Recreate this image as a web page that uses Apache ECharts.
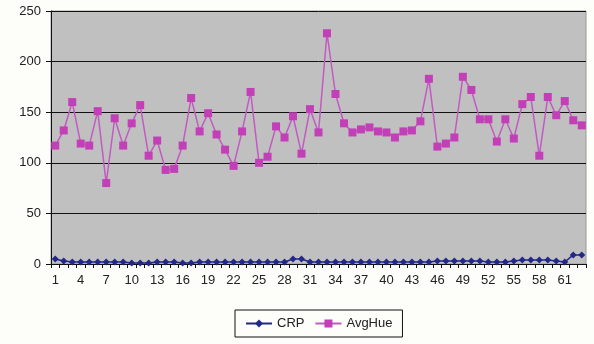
<!DOCTYPE html>
<html>
<head>
<meta charset="utf-8">
<script src="https://cdn.jsdelivr.net/npm/echarts@6/dist/echarts.min.js"></script>
<style>
  html, body { margin: 0; padding: 0; background: #fdfdfa; }
  #chart { width: 594px; height: 344px; }
</style>
</head>
<body>
<div id="chart"></div>
<script>
// Sample index 1..63
const categories = Array.from({ length: 63 }, (_, i) => String(i + 1));

const crp = [
  5, 3, 2, 2, 2, 2, 2, 2, 2, 1, 1, 1, 2, 2, 2, 1, 1, 2, 2, 2,
  2, 2, 2, 2, 2, 2, 2, 2, 5, 5, 2, 2, 2, 2, 2, 2, 2, 2, 2, 2,
  2, 2, 2, 2, 2, 3, 3, 3, 3, 3, 3, 2, 2, 2, 3, 4, 4, 4, 4, 3,
  2, 9, 9
];

const avgHue = [
  117, 132, 160, 119, 117, 151, 80, 144, 117, 139, 157, 107, 122, 93, 94, 117, 164, 131, 149, 128,
  113, 97, 131, 170, 100, 106, 136, 125, 146, 109, 153, 130, 228, 168, 139, 130, 133, 135, 131, 130,
  125, 131, 132, 141, 183, 116, 119, 125, 185, 172, 143, 143, 121, 143, 124, 158, 165, 107, 165, 147,
  161, 142, 137
];

const yTicks = { min: 0, max: 250, interval: 50 };

const chart = echarts.init(document.getElementById('chart'), null, { renderer: 'canvas' });
const font = 'Liberation Sans, Arial, sans-serif';

chart.setOption({
  animation: false,
  backgroundColor: '#fdfdfa',
  textStyle: { fontFamily: font },
  grid: {
    left: 51, right: 8, top: 11, bottom: 80,
    show: true, backgroundColor: '#c0c0c0', borderColor: '#9a9a9a', borderWidth: 1
  },
  legend: {
    top: 310,
    left: 235,
    data: ['CRP', 'AvgHue'],
    borderColor: '#111', borderWidth: 1, borderRadius: 0,
    padding: [7, 10, 7, 10],
    itemGap: 10, itemWidth: 26, itemHeight: 10,
    textStyle: { fontFamily: font, fontSize: 13, color: '#222' }
  },
  xAxis: {
    type: 'category',
    data: categories,
    boundaryGap: true,
    axisLine: { lineStyle: { color: '#111', width: 1 } },
    axisTick: { show: true, interval: 0, length: 4, lineStyle: { color: '#111' } },
    axisLabel: { interval: 2, color: '#222', fontSize: 13, margin: 10, fontFamily: font }
  },
  yAxis: {
    type: 'value',
    min: yTicks.min, max: yTicks.max, interval: yTicks.interval,
    axisLine: { show: true, lineStyle: { color: '#111', width: 1 } },
    axisTick: { show: true, length: 5, lineStyle: { color: '#111' } },
    axisLabel: { color: '#222', fontSize: 13, margin: 10, fontFamily: font },
    splitLine: { show: true, lineStyle: { color: '#111', width: 1 } }
  },
  series: [
    {
      name: 'CRP',
      type: 'line',
      data: crp,
      symbol: 'diamond',
      symbolSize: 7,
      showAllSymbol: true,
      lineStyle: { color: '#22288a', width: 1.5 },
      itemStyle: { color: '#22288a' },
      z: 3
    },
    {
      name: 'AvgHue',
      type: 'line',
      data: avgHue,
      symbol: 'rect',
      symbolSize: 8,
      showAllSymbol: true,
      lineStyle: { color: '#c25ac2', width: 1.5 },
      itemStyle: { color: '#c23fb8' },
      z: 2
    }
  ]
});
</script>
</body>
</html>
